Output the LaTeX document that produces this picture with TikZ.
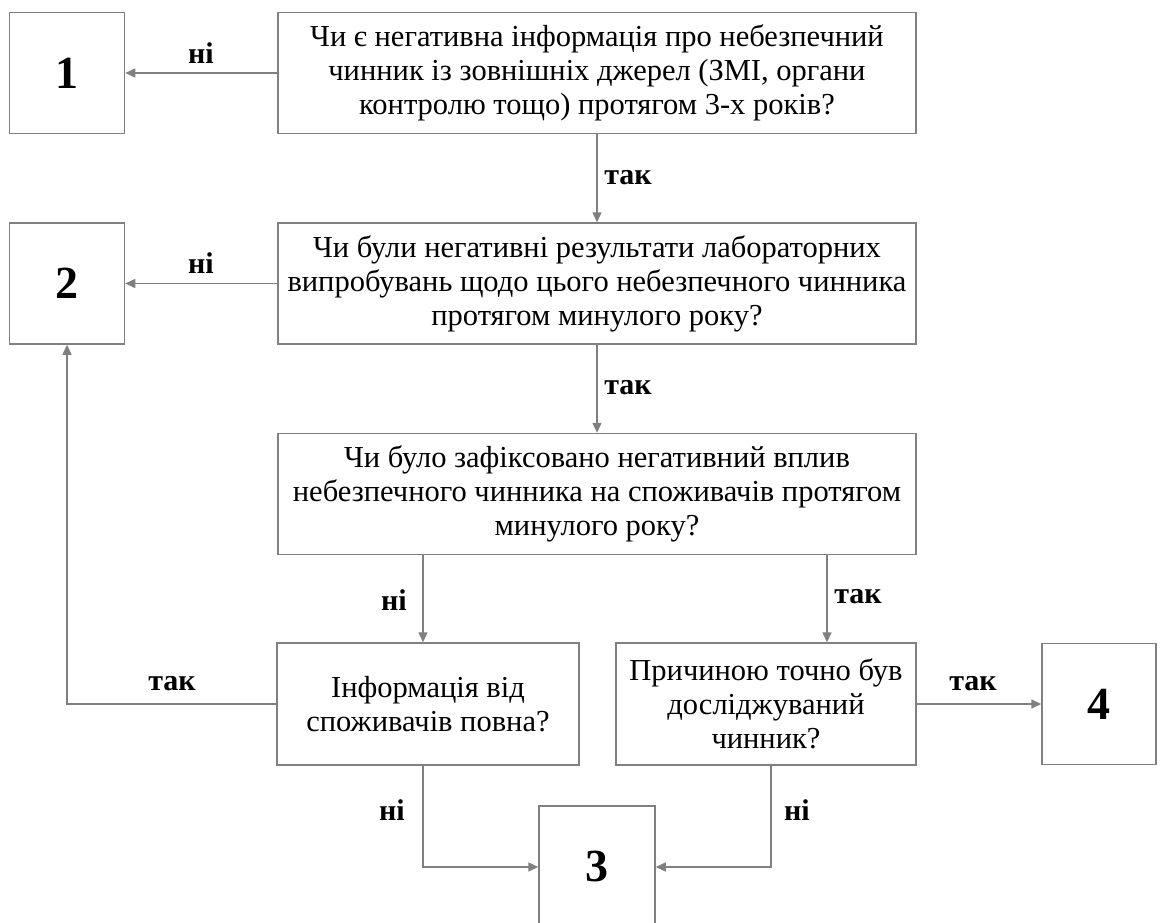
\documentclass[tikz,border=0pt]{standalone}
\usepackage{fontspec}
\setmainfont{Liberation Serif}
\usetikzlibrary{arrows.meta}
\definecolor{linegray}{RGB}{128,128,128}
\tikzset{
  box/.style={draw=linegray, line width=1.5pt, rectangle, inner sep=0pt, align=center,
     font=\fontsize{30.5}{34}\selectfont},
  numbox/.style={draw=linegray, line width=1.5pt, rectangle, inner sep=0pt,
     minimum width=115pt, minimum height=121pt, font=\fontsize{46}{50}\selectfont\bfseries},
  conn/.style={draw=linegray, line width=1.5pt, -{Triangle[length=10pt,width=9pt]}},
  lbl/.style={font=\fontsize{30}{32}\selectfont\bfseries, inner sep=0pt}
}
\begin{document}
\begin{tikzpicture}[x=1pt,y=-1pt]
\clip (0,0) rectangle (1160,922);
% boxes
\node[numbox] (b1) at (67,73) {1};
\node[box, minimum width=638pt, minimum height=121pt] (q1) at (597,73)
  {Чи є негативна інформація про небезпечний\\чинник із зовнішніх джерел (ЗМІ, органи\\контролю тощо) протягом 3-х років?};
\node[numbox] (b2) at (67,283.5) {2};
\node[box, minimum width=638pt, minimum height=121pt] (q2) at (597,283.5)
  {Чи були негативні результати лабораторних\\випробувань щодо цього небезпечного чинника\\протягом минулого року?};
\node[box, minimum width=638pt, minimum height=121pt] (q3) at (597,494)
  {Чи було зафіксовано негативний вплив\\небезпечного чинника на споживачів протягом\\минулого року?};
\node[box, minimum width=302pt, minimum height=122pt] (info) at (428,704)
  {Інформація від\\споживачів повна?};
\node[box, minimum width=300pt, minimum height=122pt] (cause) at (766,704)
  {Причиною точно був\\досліджуваний\\чинник?};
\node[numbox, minimum width=114pt] (b4) at (1099,704) {4};
\node[numbox, minimum width=116pt] (b3) at (597,866.5) {3};
% helper coordinates
\coordinate (xl) at (423,0);
\coordinate (xr) at (827,0);
\coordinate (xc) at (771,0);
\coordinate (corner1) at (67,704);
\coordinate (yb) at (0,867);
% connectors
\draw[conn] (q1.west) -- (b1.east);
\draw[conn] (q2.west) -- (b2.east);
\draw[conn] (q1.south) -- (q2.north);
\draw[conn] (q2.south) -- (q3.north);
\draw[conn] (q3.south -| xl) -- (info.north -| xl);
\draw[conn] (q3.south -| xr) -- (cause.north -| xr);
\draw[conn] (cause.east) -- (b4.west);
\draw[conn] (info.west) -- (corner1) -- (b2.south);
\draw[conn] (info.south -| xl) -- (xl |- yb) -- (b3.west |- yb);
\draw[conn] (cause.south -| xc) -- (xc |- yb) -- (b3.east |- yb);
% labels
\node[lbl] (l1) at (201,53) {ні};
\node[lbl] (l2) at (201,263) {ні};
\node[lbl] (l3) at (628,178) {так};
\node[lbl] (l4) at (628,388) {так};
\node[lbl] (l5) at (394,600) {ні};
\node[lbl] (l6) at (858,597) {так};
\node[lbl] (l7) at (973,684) {так};
\node[lbl] (l8) at (172,684) {так};
\node[lbl] (l9) at (392,810) {ні};
\node[lbl] (l10) at (797,810) {ні};
\end{tikzpicture}
\end{document}
